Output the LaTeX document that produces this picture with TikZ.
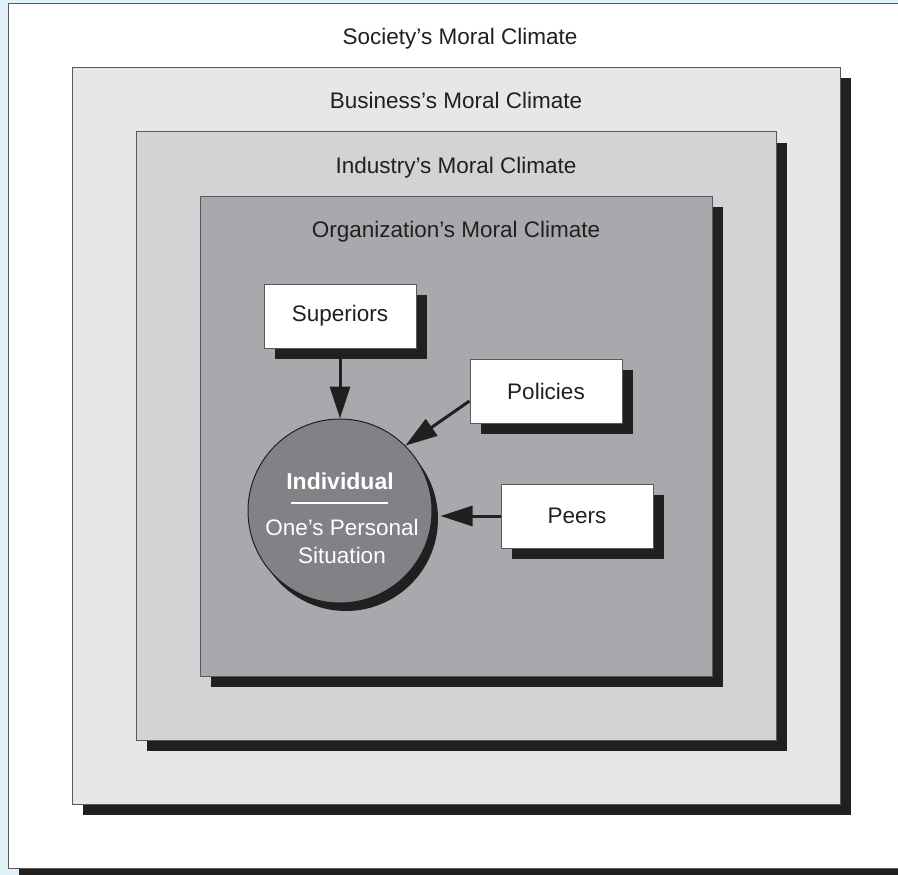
\documentclass[tikz,border=0pt]{standalone}
\usepackage{fontspec}
\setmainfont{Liberation Sans}
\usetikzlibrary{arrows.meta}
\definecolor{bgblue}{HTML}{E1F1FA}
\definecolor{bizc}{HTML}{E6E7E8}
\definecolor{indc}{HTML}{D1D3D4}
\definecolor{orgc}{HTML}{A7A9AC}
\definecolor{circc}{HTML}{808285}
\definecolor{shadowc}{HTML}{231F20}
\definecolor{borderc}{HTML}{58595B}
\definecolor{textc}{HTML}{231F20}
\pgfdeclarelayer{back}
\pgfdeclarelayer{mid}
\pgfsetlayers{back,mid,main}
\begin{document}
\begin{tikzpicture}[x=1pt,y=-1pt,
  climate/.style={rectangle, draw=borderc, line width=1pt, inner sep=0pt,
    preaction={fill=shadowc, transform canvas={shift={(10.5pt,-10.5pt)}}}},
  smallbox/.style={climate, fill=white, minimum width=152pt, minimum height=64pt,
    font=\fontsize{22.5}{26}\selectfont, text=textc},
  lbl/.style={anchor=base, font=\fontsize{22.5}{26}\selectfont, text=textc, inner sep=0pt},
  ctext/.style={anchor=base, font=\fontsize{22.5}{26}\selectfont, text=white, inner sep=0pt},
  arr/.style={draw=shadowc, line width=3pt, -{Triangle[length=32pt,width=20pt]}}]
\useasboundingbox (0,0) rectangle (898,875);
\clip (0,0) rectangle (898,875);
\begin{pgfonlayer}{back}
\fill[bgblue] (0,0) rectangle (898,875);
\node[climate, fill=white, minimum width=902pt, minimum height=864pt] (soc) at (459,436) {};
\node[climate, fill=bizc, minimum width=768pt, minimum height=736pt] (biz) at (456,436) {};
\node[climate, fill=indc, minimum width=640pt, minimum height=608pt] (ind2) at (456,436) {};
\node[climate, fill=orgc, minimum width=512pt, minimum height=480pt] (org) at (456,436) {};
\node[lbl] (soct) at (460,45) {Society’s Moral Climate};
\node[lbl] (bizt) at (456,109) {Business’s Moral Climate};
\node[lbl] (indt) at (456,173) {Industry’s Moral Climate};
\node[lbl] (orgt) at (456,237) {Organization’s Moral Climate};
\node[circle, draw=shadowc, line width=1pt, fill=circc, minimum size=184pt, inner sep=0pt,
  preaction={fill=shadowc, transform canvas={shift={(6pt,-8pt)}}}] (ind) at (340,511) {};
\node[ctext, font=\fontsize{23}{26}\selectfont\bfseries] (indiv) at (340,489) {Individual};
\draw[white, line width=2pt] (291,503) -- (388,503);
\node[ctext] (ones) at (342,535) {One’s Personal};
\node[ctext] (sit) at (342,563) {Situation};
\end{pgfonlayer}
\node[smallbox] (sup) at (340,316) {Superiors};
\node[smallbox] (pol) at (546,391) {Policies};
\node[smallbox] (per) at (577,516) {Peers};
\begin{pgfonlayer}{mid}
\draw[arr] (sup.south) -- (ind.north);
\draw[arr] ([yshift=-10pt]pol.west) -- (ind.45);
\draw[arr] (per.west) -- ([xshift=8pt]per.west -| ind.east);
\end{pgfonlayer}
\end{tikzpicture}
\end{document}
